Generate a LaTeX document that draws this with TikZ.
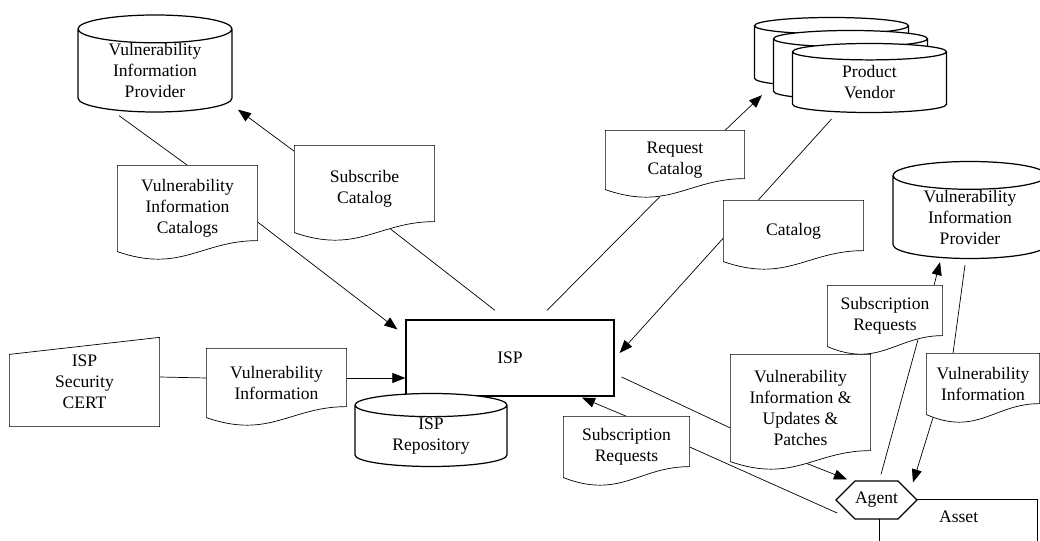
\documentclass[tikz,border=0pt]{standalone}
\usepackage{fontspec}
\setmainfont{Liberation Serif}
\usetikzlibrary{shapes.geometric, shapes.symbols, arrows.meta, calc, backgrounds}

\begin{document}
\begin{tikzpicture}[
	font=\fontsize{10}{12}\selectfont,
	line width=0.7pt,
	textbox/.style={align=center, minimum width=2.78cm, minimum height=1.2cm, inner sep=0pt},
	cyl/.style={cylinder, shape border rotate=90, aspect=0.3, draw, fill=white, align=center,
		minimum width=3.08cm, minimum height=1.94cm, inner sep=0pt, anchor=shape center},
	flow/.style={-{Triangle[length=0.26cm, width=0.2cm]}},
	outline/.style={draw, fill=white}
	]
	\useasboundingbox (0,0) rectangle (20.8,10.82);
	\node[cyl] (vip1) at (3.10,9.55) {Vulnerability\\Information\\Provider};
	\node[textbox, minimum height=1.70cm] (vic) at (3.75,6.65) {Vulnerability\\Information\\Catalogs};
	\node[textbox, minimum height=1.72cm] (subcat) at (7.29,7.04) {Subscribe\\Catalog};
	\node[textbox, minimum width=2.76cm, minimum height=1.16cm] (reqcat) at (13.50,7.62) {Request\\Catalog};
	\node[cyl, minimum height=1.38cm] (pv1) at (16.63,9.78) {\phantom{Product}\\\phantom{Vendor}};
	\node[cyl, minimum height=1.38cm] (pv2) at (17.01,9.52) {\phantom{Product}\\\phantom{Vendor}};
	\node[cyl, minimum height=1.38cm] (pv3) at (17.39,9.26) {Product\\Vendor};
	\node[textbox] (cat) at (15.87,6.20) {Catalog};
	\node[cyl] (vip2) at (19.40,6.62) {Vulnerability\\Information\\Provider};
	\node[draw, fill=white, minimum width=4.16cm, minimum height=1.52cm] (isp) at (10.20,3.66) {ISP};
	\node[cyl, minimum width=3.04cm, minimum height=1.46cm] (repo) at (8.62,2.22) {ISP\\Repository};
	\node[textbox, minimum width=2.98cm, minimum height=1.76cm] (cert) at (1.69,3.18) {ISP\\Security\\CERT};
	\node[textbox, minimum height=1.36cm] (vinfo) at (5.53,3.16) {Vulnerability\\Information};
	\node[textbox, minimum width=2.50cm] (subreq) at (12.53,1.88) {Subscription\\Requests};
	\node[textbox, minimum height=2.12cm] (viup) at (16.01,2.66) {Vulnerability\\Information \&\\Updates \&\\Patches};
	\node[textbox, minimum width=2.28cm] (subreq2) at (17.70,4.50) {Subscription\\Requests};
	\node[textbox, minimum width=2.24cm] (vinfo2) at (19.66,3.14) {Vulnerability\\Information};
	\node[draw, anchor=north west, minimum width=3.16cm, inner ysep=0.22cm, text depth=0.6cm] (asset) at (17.58,0.84) {Asset};
	\node[signal, signal to=west and east, signal pointer angle=90, draw, fill=white,
		minimum width=1.5cm, minimum height=0.76cm, inner sep=0pt] (agent) at (17.53,0.82) {Agent};
	\begin{scope}[on background layer]
		\draw ([xshift=-0.72cm,yshift=-0.06cm]vip1.south) -- (vic.north);
		\draw[flow] ([yshift=-0.27cm]vic.east) -- ([xshift=-0.16cm,yshift=-0.2cm]isp.north west);
		\draw[flow] ([yshift=-0.12cm]subcat.north west) -- ([xshift=1.66cm,yshift=0.06cm]vip1.south);
		\draw ([xshift=0.51cm,yshift=0.08cm]subcat.south) -- ([xshift=-0.3cm,yshift=0.18cm]isp.north);
		\draw[flow] ([xshift=1.0cm]reqcat.north) -- ([xshift=-1.39cm,yshift=-0.16cm]pv1.south);
		\draw ([xshift=-0.3cm,yshift=-0.14cm]reqcat.south) -- ([xshift=0.74cm,yshift=0.18cm]isp.north);
		\draw ([xshift=-0.76cm,yshift=-0.12cm]pv3.south) -- ([xshift=-0.71cm]cat.north);
		\draw[flow] ([yshift=-0.14cm]cat.west) -- ([xshift=0.1cm,yshift=0.1cm]isp.east);
		\draw ([yshift=0.1cm]cert.east) -- ([yshift=0.1cm]vinfo.west);
		\draw[flow] ([yshift=0.1cm]vinfo.east) -- ([yshift=-0.4cm]isp.west);
		\draw[flow] (subreq.north) -- ([xshift=1.44cm,yshift=-0.02cm]isp.south);
		\draw (subreq.east) -- ([xshift=0.04cm,yshift=-0.26cm]agent.west);
		\draw ([xshift=0.14cm,yshift=-0.38cm]isp.east) -- ([yshift=-0.4cm]viup.west);
		\draw[flow] ([xshift=0.03cm]viup.south) -- ([xshift=-0.59cm,yshift=0.02cm]agent.north);
		\draw ([xshift=0.09cm,yshift=0.12cm]agent.north) -- ([xshift=0.66cm,yshift=0.14cm]subreq2.south);
		\draw[flow] ([xshift=0.98cm]subreq2.north) -- ([xshift=-0.6cm,yshift=-0.06cm]vip2.south);
		\draw ([xshift=-0.1cm,yshift=-0.12cm]vip2.south) -- ([xshift=-0.6cm]vinfo2.north);
		\draw[flow] ([xshift=-1.0cm,yshift=-0.06cm]vinfo2.south) -- ([xshift=0.73cm,yshift=-0.04cm]agent.north);
		\foreach \doc in {vic,subcat,reqcat,cat,vinfo,subreq,viup,subreq2,vinfo2}
			\draw[outline] (\doc.south west) -- (\doc.north west) -- (\doc.north east) -- ([yshift=0.22cm]\doc.south east)
				.. controls ($(\doc.south west)!0.6!(\doc.south east)+(0,0.22)$) and ($(\doc.south west)!0.45!(\doc.south east)+(0,-0.44)$) .. (\doc.south west) -- cycle;
		\draw[outline] (cert.south west) -- ([yshift=-0.34cm]cert.north west) -- (cert.north east) -- (cert.south east) -- cycle;
	\end{scope}
\end{tikzpicture}
\end{document}
